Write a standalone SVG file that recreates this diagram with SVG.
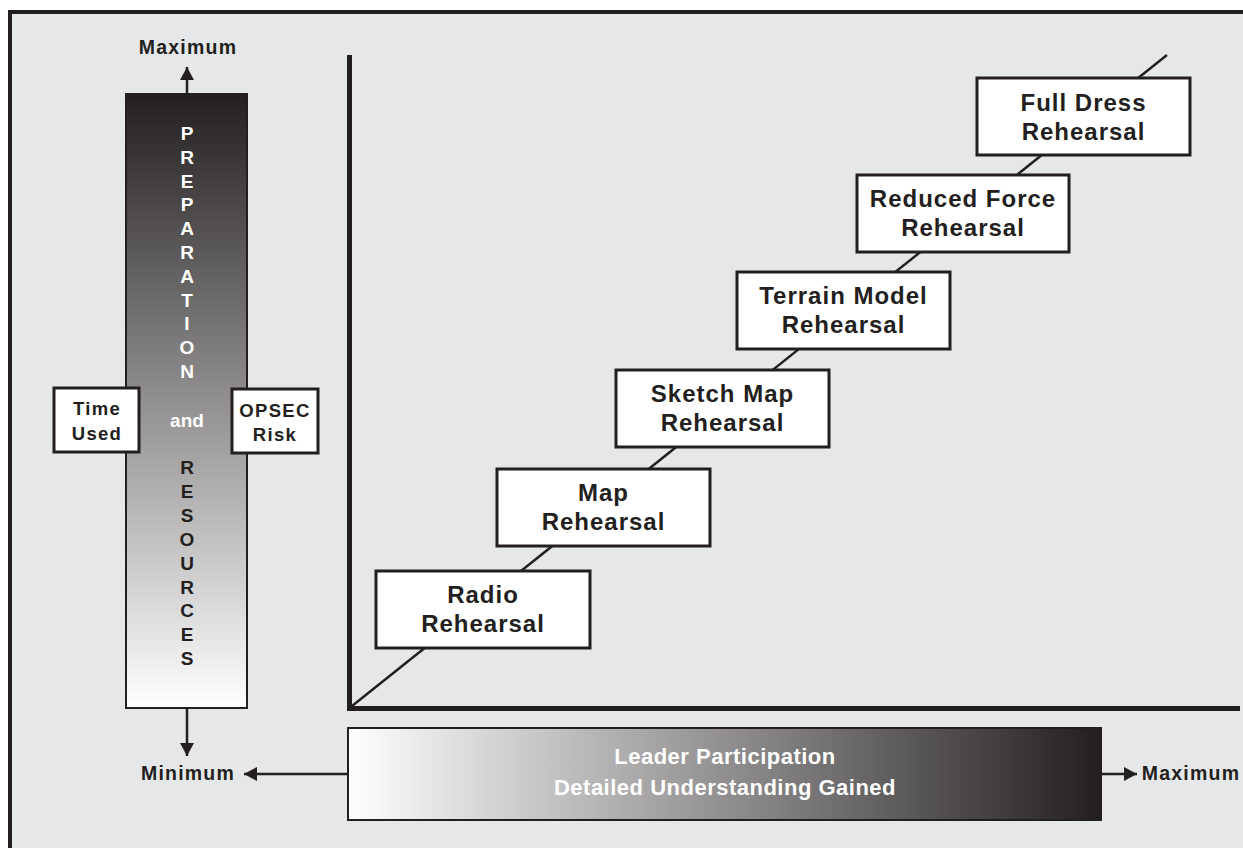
<svg xmlns="http://www.w3.org/2000/svg" width="1243" height="848" viewBox="0 0 1243 848">
<defs>
<linearGradient id="gv" x1="0" y1="0" x2="0" y2="1">
<stop offset="0" stop-color="#231f20"/>
<stop offset="1" stop-color="#ffffff"/>
</linearGradient>
<linearGradient id="gh" x1="0" y1="0" x2="1" y2="0">
<stop offset="0" stop-color="#ffffff"/>
<stop offset="1" stop-color="#231f20"/>
</linearGradient>
<marker id="ah" markerUnits="userSpaceOnUse" markerWidth="13" markerHeight="14" refX="13" refY="7" orient="auto">
<path d="M0,0 L13,7 L0,14 z" fill="#231f20"/>
</marker>
<style>
.box{fill:#ffffff;stroke:#231f20;stroke-width:3}
.bt{font-family:"Liberation Sans",Arial,sans-serif;font-weight:bold;font-size:24px;letter-spacing:1px;fill:#231f20;text-anchor:middle}
.sm{font-family:"Liberation Sans",Arial,sans-serif;font-weight:bold;font-size:18.5px;letter-spacing:1.3px;fill:#231f20;text-anchor:middle}
.lab{font-family:"Liberation Sans",Arial,sans-serif;font-weight:bold;font-size:19.5px;letter-spacing:1.2px;fill:#231f20;text-anchor:middle}
.wl{font-family:"Liberation Sans",Arial,sans-serif;font-weight:bold;font-size:19px;fill:#ffffff;text-anchor:middle}
.dl{font-family:"Liberation Sans",Arial,sans-serif;font-weight:bold;font-size:19px;fill:#231f20;text-anchor:middle}
.wb{font-family:"Liberation Sans",Arial,sans-serif;font-weight:bold;font-size:22px;letter-spacing:0.5px;fill:#ffffff;text-anchor:middle}
.ar{stroke:#231f20;stroke-width:2.5;fill:none;marker-end:url(#ah)}
</style>
</defs>
<rect x="0" y="0" width="1243" height="848" fill="#ffffff"/>
<rect x="10" y="12" width="1245" height="850" fill="#e6e7e8" stroke="#231f20" stroke-width="4"/>

<g id="connectors">
<line x1="352" y1="706" x2="1167" y2="55" stroke="#231f20" stroke-width="2.5"/>
<line class="ar" x1="187" y1="94" x2="187" y2="67"/>
<line class="ar" x1="187" y1="708" x2="187" y2="756"/>
<line class="ar" x1="348" y1="774" x2="244" y2="774"/>
<line class="ar" x1="1101" y1="774" x2="1137" y2="774"/>
</g>

<g id="axes">
<line x1="349.5" y1="55" x2="349.5" y2="711" stroke="#231f20" stroke-width="5"/>
<line x1="347" y1="708.5" x2="1240" y2="708.5" stroke="#231f20" stroke-width="5"/>
</g>

<g id="resources-bar">
<rect x="126" y="94" width="121" height="614" fill="url(#gv)" stroke="#231f20" stroke-width="2"/>
<text class="wl" x="187" y="140">P</text>
<text class="wl" x="187" y="163.8">R</text>
<text class="wl" x="187" y="187.6">E</text>
<text class="wl" x="187" y="211.4">P</text>
<text class="wl" x="187" y="235.2">A</text>
<text class="wl" x="187" y="259">R</text>
<text class="wl" x="187" y="282.8">A</text>
<text class="wl" x="187" y="306.6">T</text>
<text class="wl" x="187" y="330.4">I</text>
<text class="wl" x="187" y="354.2">O</text>
<text class="wl" x="187" y="378">N</text>
<text class="wl" x="187" y="427">and</text>
<text class="dl" x="187" y="474">R</text>
<text class="dl" x="187" y="497.9">E</text>
<text class="dl" x="187" y="521.8">S</text>
<text class="dl" x="187" y="545.7">O</text>
<text class="dl" x="187" y="569.6">U</text>
<text class="dl" x="187" y="593.5">R</text>
<text class="dl" x="187" y="617.4">C</text>
<text class="dl" x="187" y="641.3">E</text>
<text class="dl" x="187" y="665.2">S</text>
</g>

<g id="time-used">
<rect class="box" x="54" y="388" width="85" height="64"/>
<text class="sm" x="97" y="415">Time</text>
<text class="sm" x="97" y="440">Used</text>
</g>
<g id="opsec-risk">
<rect class="box" x="232" y="389" width="86" height="64"/>
<text class="sm" x="275" y="417">OPSEC</text>
<text class="sm" x="275" y="441">Risk</text>
</g>

<g id="label-max-top"><text class="lab" x="188" y="54">Maximum</text></g>
<g id="label-min"><text class="lab" x="188" y="780">Minimum</text></g>
<g id="label-max-right"><text class="lab" x="1191" y="780">Maximum</text></g>

<g id="leader-bar">
<rect x="348" y="728" width="753" height="92" fill="url(#gh)" stroke="#231f20" stroke-width="2"/>
<text class="wb" x="725" y="764">Leader Participation</text>
<text class="wb" x="725" y="795">Detailed Understanding Gained</text>
</g>

<g id="radio">
<rect class="box" x="376" y="571" width="214" height="77"/>
<text class="bt" x="483" y="603">Radio</text>
<text class="bt" x="483" y="632">Rehearsal</text>
</g>
<g id="map">
<rect class="box" x="497" y="469" width="213" height="77"/>
<text class="bt" x="603.5" y="501">Map</text>
<text class="bt" x="603.5" y="530">Rehearsal</text>
</g>
<g id="sketch-map">
<rect class="box" x="616" y="370" width="213" height="77"/>
<text class="bt" x="722.5" y="402">Sketch Map</text>
<text class="bt" x="722.5" y="431">Rehearsal</text>
</g>
<g id="terrain-model">
<rect class="box" x="737" y="272" width="213" height="77"/>
<text class="bt" x="843.5" y="304">Terrain Model</text>
<text class="bt" x="843.5" y="333">Rehearsal</text>
</g>
<g id="reduced-force">
<rect class="box" x="857" y="175" width="212" height="77"/>
<text class="bt" x="963" y="207">Reduced Force</text>
<text class="bt" x="963" y="236">Rehearsal</text>
</g>
<g id="full-dress">
<rect class="box" x="977" y="78" width="213" height="77"/>
<text class="bt" x="1083.5" y="111">Full Dress</text>
<text class="bt" x="1083.5" y="140">Rehearsal</text>
</g>
</svg>
